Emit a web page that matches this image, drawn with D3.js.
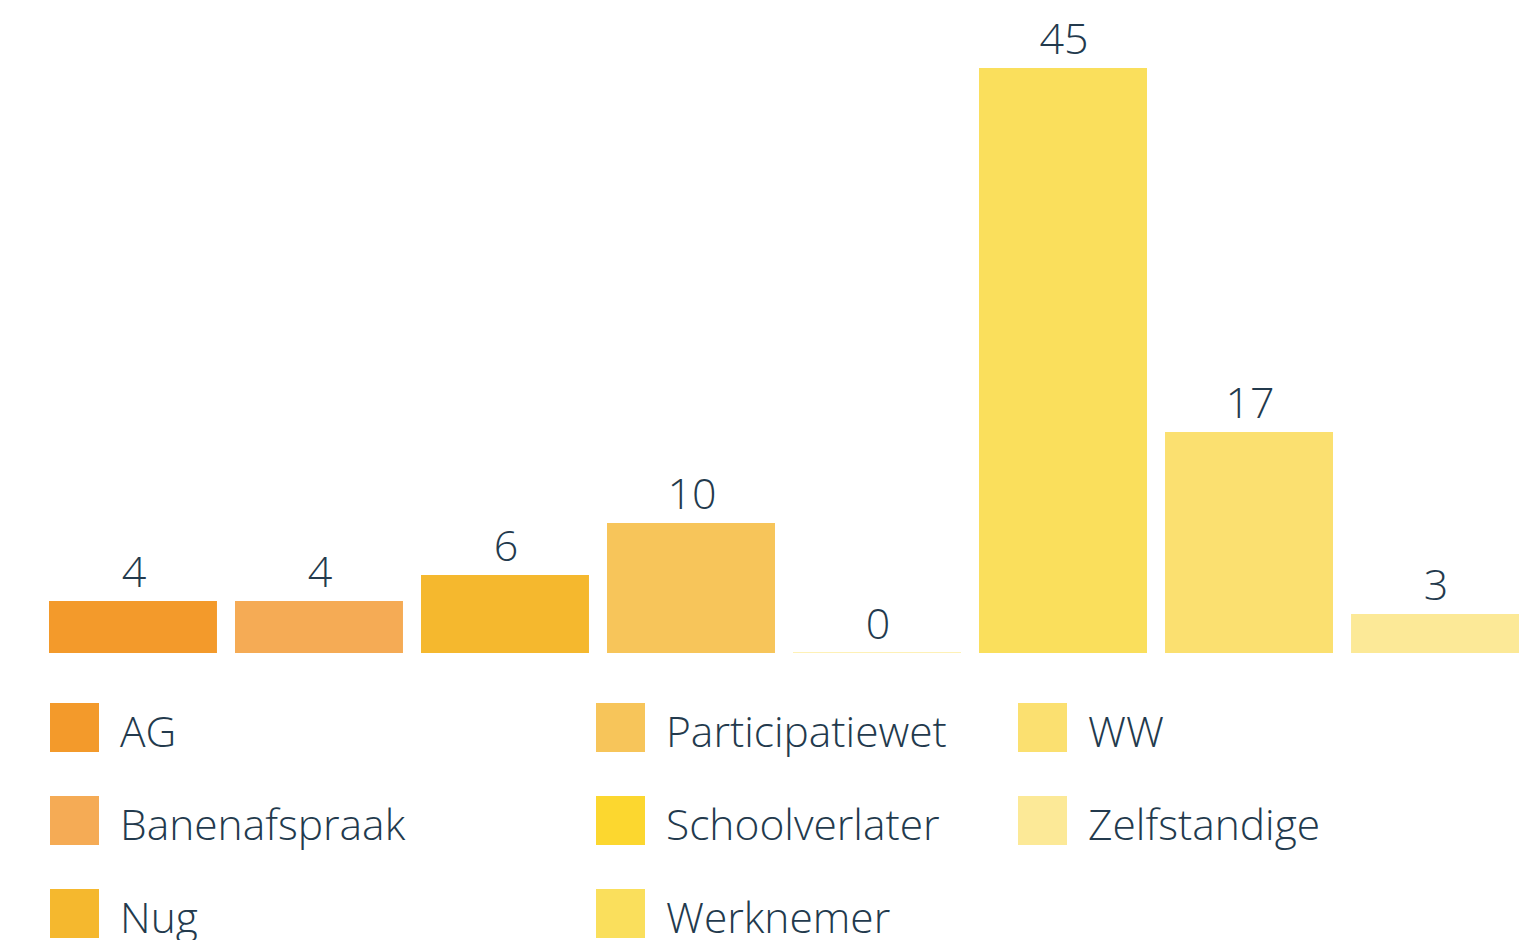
<!DOCTYPE html>
<html>
<head>
<meta charset="utf-8">
<script src="https://cdn.jsdelivr.net/npm/d3@7"></script>
<style>
  html, body { margin: 0; padding: 0; background: #ffffff; }
  svg { display: block; }
  text { font-family: "Open Sans", sans-serif; font-weight: 300; fill: #233a4d; }
</style>
</head>
<body>
<svg id="chart" width="1522" height="940"></svg>
<script>
const categories = ["AG", "Banenafspraak", "Nug", "Participatiewet", "Schoolverlater", "Werknemer", "WW", "Zelfstandige"];
const values = [4, 4, 6, 10, 0, 45, 17, 3];
const colors = ["#f39a2b", "#f5ab55", "#f5b82e", "#f7c55a", "#fcd72f", "#fadf5c", "#fbe070", "#fce997"];
const legendColumns = [
  ["AG", "Banenafspraak", "Nug"],
  ["Participatiewet", "Schoolverlater", "Werknemer"],
  ["WW", "Zelfstandige"]
];

const svg = d3.select("#chart");
const baseY = 653, topY = 68;

const x = d3.scaleBand().domain(categories).range([49, 1519]).paddingInner(0.097).paddingOuter(0);
const y = d3.scaleLinear().domain([0, 45]).range([baseY, topY]);
const color = d3.scaleOrdinal().domain(categories).range(colors);

const data = categories.map((c, i) => ({ c, v: values[i] }));

const bars = svg.append("g");
bars.selectAll("rect").data(data).join("rect")
  .attr("x", d => x(d.c))
  .attr("width", x.bandwidth())
  .attr("y", d => d.v > 0 ? y(d.v) : baseY - 1)
  .attr("height", d => d.v > 0 ? baseY - y(d.v) : 1)
  .attr("fill", d => color(d.c))
  .attr("fill-opacity", d => d.v > 0 ? 1 : 0.35);

bars.selectAll("text").data(data).join("text")
  .attr("x", d => x(d.c) + x.bandwidth() / 2 + 1)
  .attr("y", d => y(d.v) - 14)
  .attr("text-anchor", "middle")
  .attr("font-size", 43)
  .text(d => d.v);

const colX = [50, 596, 1018];
const rowY = [703, 796, 889];
const legend = svg.append("g");
legendColumns.forEach((col, ci) => {
  col.forEach((name, ri) => {
    const g = legend.append("g").attr("transform", `translate(${colX[ci]},${rowY[ri]})`);
    g.append("rect").attr("width", 49).attr("height", 49).attr("fill", color(name));
    g.append("text").attr("x", 70).attr("y", 44).attr("font-size", 42.5).text(name);
  });
});
</script>
</body>
</html>
